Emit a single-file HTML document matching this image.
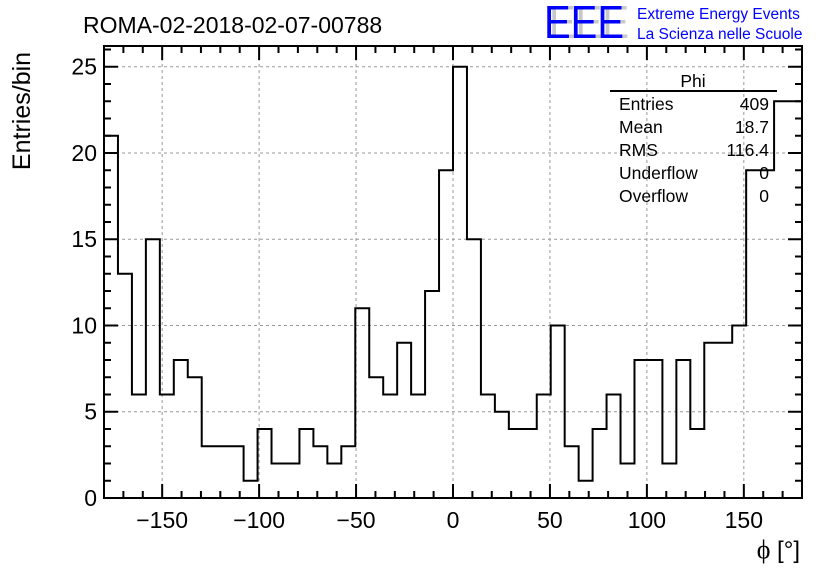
<!DOCTYPE html>
<html><head><meta charset="utf-8"><style>
html,body{margin:0;padding:0;background:#fff;}
svg{display:block;font-family:"Liberation Sans",Arial,sans-serif;}
</style></head><body>
<svg id="c" width="836" height="572" viewBox="0 0 836 572">
<text x="83" y="33" font-size="23">ROMA-02-2018-02-07-00788</text>
<g>
<text x="549" y="38" font-size="46" fill="#c8c8c8" textLength="80" lengthAdjust="spacingAndGlyphs">EEE</text>
<text x="544" y="38" font-size="46" fill="#0000ff" textLength="80" lengthAdjust="spacingAndGlyphs">EEE</text>
<text x="637" y="19" font-size="15.5" fill="#0000ff">Extreme Energy Events</text>
<text x="637" y="39" font-size="15.5" fill="#0000ff">La Scienza nelle Scuole</text>
</g>
<g id="grid"></g>
<g id="axes"></g>
<path id="hist" fill="none" stroke="#000" stroke-width="2"/>
<rect x="104" y="46" width="698" height="452" fill="none" stroke="#000" stroke-width="2"/>
<text x="30" y="111" font-size="25" transform="rotate(-90 30 111)" text-anchor="middle">Entries/bin</text>
<text x="800" y="558" font-size="24" text-anchor="end"><tspan font-family="Liberation Serif, serif" font-size="26">ϕ</tspan> [°]</text>
<g font-size="17.5">
<text x="693" y="87" text-anchor="middle">Phi</text>
<line x1="610" y1="91" x2="777" y2="91" stroke="#000" stroke-width="2"/>
<text x="619" y="110">Entries</text><text x="769" y="110" text-anchor="end">409</text>
<text x="619" y="133">Mean</text><text x="769" y="133" text-anchor="end">18.7</text>
<text x="619" y="156">RMS</text><text x="769" y="156" text-anchor="end">116.4</text>
<text x="619" y="179">Underflow</text><text x="769" y="179" text-anchor="end">0</text>
<text x="619" y="202">Overflow</text><text x="769" y="202" text-anchor="end">0</text>
</g>
</svg>
<script>
const binCounts=[21,13,6,15,6,8,7,3,3,3,1,4,2,2,4,3,2,3,11,7,6,9,6,12,19,25,15,6,5,4,4,6,10,3,1,4,6,2,8,8,2,8,4,9,9,10,19,19,23,23];
const xMin=-180, xMax=180;
const yMin=0, yMax=26.2;
const xTicks=[-150,-100,-50,0,50,100,150];
const xTickLabels=["\u2212150","\u2212100","\u221250","0","50","100","150"];
const yTicks=[0,5,10,15,20,25];
const yTickLabels=["0","5","10","15","20","25"];
const L=104,R=802,T=46,B=498;
const sx=v=>L+(v-xMin)/(xMax-xMin)*(R-L);
const sy=v=>B-(v-yMin)/(yMax-yMin)*(B-T);
const NS="http://www.w3.org/2000/svg";
function mk(tag,attrs,parent,txt){const e=document.createElementNS(NS,tag);for(const k in attrs)e.setAttribute(k,attrs[k]);if(txt!==undefined)e.textContent=txt;parent.appendChild(e);return e;}
const grid=document.getElementById('grid'),axes=document.getElementById('axes');
xTicks.forEach((v,i)=>{
 const g=mk('line',{x1:sx(v),x2:sx(v),y1:T,y2:B,stroke:'#999','stroke-dasharray':'3,3','stroke-width':1},grid);
 
 
 const t=mk('text',{x:sx(v),y:528,'font-size':23,'text-anchor':'middle'},axes,xTickLabels[i]);
 
 
});
yTicks.forEach((v,i)=>{
 if(v>0){const g=mk('line',{x1:L,x2:R,y1:sy(v),y2:sy(v),stroke:'#999','stroke-dasharray':'3,3','stroke-width':1},grid);
 
 }
 const t=mk('text',{x:97,y:sy(v)+8,'font-size':23,'text-anchor':'end'},axes,yTickLabels[i]);
 
 
});
let tk='';
for(let v=-180;v<=180;v+=10){const len=(v%50===0)?14:7;const x=sx(v);tk+=`M${x} ${B}V${B-len}M${x} ${T}V${T+len}`;}
for(let v=0;v<=yMax;v+=1){const len=(v%5===0)?14:7;const y=sy(v);tk+=`M${L} ${y}H${L+len}M${R} ${y}H${R-len}`;}
const tp=mk('path',{d:tk,stroke:'#000','stroke-width':2,fill:'none'},axes);


const w=(xMax-xMin)/binCounts.length;
let d=`M${sx(xMin)} ${sy(0)}`;
binCounts.forEach((c,i)=>{d+=`V${sy(c)}H${sx(xMin+(i+1)*w)}`;});
d+=`V${sy(0)}`;
document.getElementById('hist').setAttribute('d',d);
</script>
</body></html>
